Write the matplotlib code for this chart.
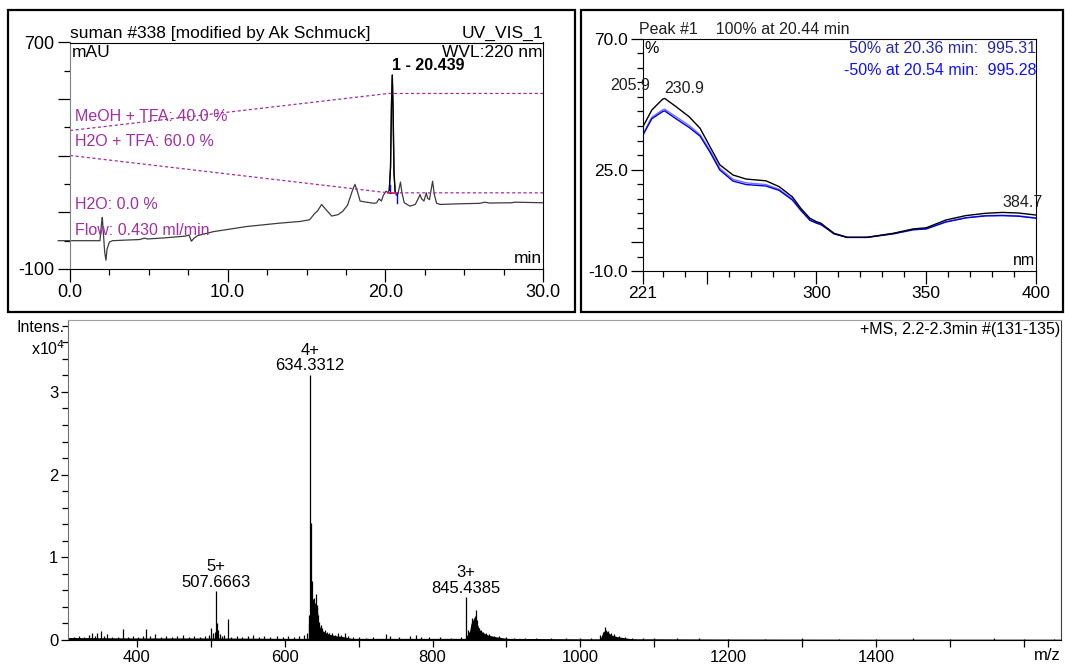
import numpy as np
import matplotlib
matplotlib.use("Agg")
import matplotlib.pyplot as plt
from matplotlib.patches import Rectangle
from matplotlib.ticker import FixedLocator, NullFormatter

plt.rcParams['font.family'] = ['Liberation Sans', 'DejaVu Sans']

# ---- HPLC chromatogram (UV 220 nm) ----
chrom_t = [-0.75, 1.9, 2.0, 2.05, 2.1, 2.2, 2.28, 2.35, 2.5, 2.7, 3.5, 4.4, 4.6, 4.75,
           4.9, 6.0, 7.3, 7.55, 7.7, 7.85, 8.1, 9.1, 11.2, 13.3, 14.6, 15.2, 15.5, 15.7,
           15.96, 16.2, 16.6, 17.0, 17.3, 17.6, 17.9, 18.07, 18.25, 18.4, 18.8, 19.3,
           19.45, 19.6, 19.75, 19.87, 20.05, 20.15, 20.25, 20.33, 20.39, 20.44, 20.49,
           20.55, 20.62, 20.7, 20.8, 20.96, 21.05, 21.2, 21.56, 21.9, 22.1, 22.2, 22.3,
           22.45, 22.6, 22.68, 22.8, 22.95, 23.0, 23.1, 23.25, 23.5, 24.5, 26.0, 26.3,
           26.6, 28.0, 28.2, 30.0]
chrom_mau = [0, 0, 60, 82, 40, -40, -69, -30, -5, 0, 2, 4, 7, 9,
             6, 10, 16, 20, -2, 8, 18, 32, 50, 62, 68, 74, 95, 105,
             128, 112, 87, 92, 104, 125, 175, 199, 170, 140, 136, 132,
             134, 148, 140, 160, 175, 170, 178, 260, 480, 585, 470,
             240, 175, 160, 165, 207, 170, 134, 122, 128, 150, 163, 148,
             140, 169, 150, 145, 195, 210, 165, 132, 128, 130, 132, 136,
             133, 134, 136, 134]
peak_rt = 20.439
peak_height = 585
# integration baseline of peak 1 and its delimiters
base_t = [20.2, 20.72]
base_mau = [168, 168]
delim_start = (20.3, 169, 195)
delim_end = (20.75, 134, 169)

# gradient traces (drawn on the mAU scale)
grad_t = [0, 20.2, 30]
grad_meoh = [389, 520, 520]
grad_h2o = [301, 169, 169]

# ---- UV spectrum of peak 1 ----
uv_nm = [221, 225, 230, 230.9, 236, 242, 247, 251.5, 256, 262, 268, 277, 283, 289, 293,
         297, 300, 302, 304, 308, 314, 323, 335, 344, 350, 359, 368, 377, 384.7, 392, 400]
uv_apex = [39.8, 45.5, 49.3, 49.5, 46.7, 43.2, 39.2, 32.9, 26.6, 23.1, 21.7, 21.1, 19.1,
           15.6, 11.5, 8.2, 7.0, 6.5, 5.3, 3.0, 1.6, 1.6, 3.0, 4.5, 4.9, 7.6, 9.1, 9.9,
           10.2, 10.0, 9.3]
uv_up = [37.2, 43.0, 45.6, 45.8, 43.2, 40.2, 37.0, 31.6, 25.4, 21.6, 20.4, 19.8, 18.2,
         14.9, 11.0, 7.7, 6.6, 6.1, 5.1, 2.9, 1.6, 1.6, 2.9, 4.3, 4.6, 7.0, 8.4, 9.1,
         9.2, 9.0, 8.3]
uv_down = [36.9, 42.5, 45.0, 45.2, 42.5, 39.5, 36.5, 31.0, 24.8, 21.0, 19.8, 19.3, 17.8,
           14.5, 10.8, 7.5, 6.5, 6.0, 5.0, 2.8, 1.6, 1.6, 2.8, 4.2, 4.5, 6.9, 8.3, 9.0,
           9.1, 8.9, 8.2]
uv_maxima = [205.9, 230.9, 384.7]
uv_max_level = [50.5, 49.5, 10.2]

# ---- ESI mass spectrum ----
ms_mz = [315, 322, 328, 335, 339, 343, 346, 352, 356, 360, 366, 374, 382, 388, 395, 402,
         408, 413, 418, 425, 433, 440, 447, 455, 462, 470, 478, 486, 492, 498, 501, 503,
         505.5, 507.6663, 509, 510.5, 512, 515, 518, 523.6, 527, 535, 542, 550, 557, 565,
         572, 580, 590, 598, 605, 612, 620, 626, 630, 632.5, 633.5, 634.3312, 635.2,
         636.3, 637.5, 638.7, 639.8, 641, 642.1, 643.2, 644.4, 645.6, 647, 649, 651,
         654, 657, 660, 664, 668, 672, 676, 681, 686, 692, 700, 710, 720, 737, 742, 755,
         770, 778, 785, 795, 810, 825, 838, 845.4385, 848, 850, 853.8, 856, 858.4, 860.8,
         863, 865.4, 868, 872, 877, 883, 890, 900, 910, 925, 940, 960, 980, 1000, 1015,
         1027, 1030, 1033.2, 1035, 1038, 1042, 1046, 1052, 1060, 1070, 1085, 1100, 1130,
         1160, 1200, 1250, 1300, 1350, 1400, 1450, 1500, 1560, 1600, 1640]
ms_int = [0.04, 0.05, 0.04, 0.06, 0.09, 0.05, 0.08, 0.11, 0.05, 0.07, 0.04, 0.04, 0.13,
          0.04, 0.05, 0.04, 0.05, 0.13, 0.05, 0.07, 0.04, 0.05, 0.04, 0.05, 0.06, 0.04,
          0.05, 0.04, 0.05, 0.06, 0.15, 0.08, 0.10, 0.59, 0.20, 0.12, 0.07, 0.05, 0.06,
          0.26, 0.04, 0.05, 0.04, 0.05, 0.06, 0.04, 0.05, 0.04, 0.05, 0.04, 0.05, 0.04,
          0.05, 0.06, 0.08, 0.20, 0.30, 3.21, 1.41, 0.69, 0.71, 0.50, 0.51, 0.45, 0.56,
          0.40, 0.42, 0.30, 0.22, 0.18, 0.14, 0.12, 0.10, 0.09, 0.08, 0.06, 0.09, 0.06,
          0.08, 0.05, 0.04, 0.04, 0.03, 0.04, 0.07, 0.05, 0.04, 0.05, 0.06, 0.04, 0.04,
          0.04, 0.03, 0.04, 0.52, 0.12, 0.10, 0.27, 0.20, 0.36, 0.24, 0.15, 0.12, 0.10,
          0.08, 0.07, 0.05, 0.05, 0.04, 0.03, 0.03, 0.03, 0.02, 0.03, 0.02, 0.02, 0.06,
          0.10, 0.16, 0.12, 0.11, 0.08, 0.07, 0.05, 0.04, 0.03, 0.02, 0.02, 0.02, 0.02,
          0.015, 0.015, 0.02, 0.015, 0.015, 0.02, 0.015, 0.02, 0.015, 0.015]
# unresolved isotope/adduct envelopes under the clusters
env_mz = [632, 633, 634, 636, 638, 640, 642, 644, 646, 648, 650, 655, 660, 670, 680, 690,
          700, 843, 846, 850, 852, 855, 858, 861, 864, 868, 875, 885, 900, 920,
          1026, 1030, 1033, 1036, 1042, 1050, 1065, 1080]
env_int = [0, 0.10, 0.25, 0.35, 0.38, 0.40, 0.42, 0.38, 0.20, 0.15, 0.12, 0.09, 0.07, 0.05,
           0.04, 0.02, 0, 0, 0.05, 0.10, 0.20, 0.25, 0.30, 0.18, 0.12, 0.09, 0.06, 0.04,
           0.02, 0, 0, 0.08, 0.12, 0.10, 0.06, 0.04, 0.02, 0]
noise_mz = [307, 400, 500, 600, 700, 800, 900, 1000, 1100, 1200, 1400, 1650]
noise_int = [0.03, 0.025, 0.025, 0.02, 0.02, 0.02, 0.02, 0.015, 0.015, 0.012, 0.01, 0.01]
ms_labels = [(507.6663, 0.59, "5+\n507.6663"),
             (634.3312, 3.21, "4+\n634.3312"),
             (845.4385, 0.52, "3+\n845.4385")]

purple = '#a030a0'

fig = plt.figure(figsize=(10.65, 6.66), dpi=100)

# panel frames
for x0, w in [(8, 567), (581, 482)]:
    fig.add_artist(Rectangle((x0 / 1065, 1 - 312 / 666), w / 1065, 302 / 666,
                             transform=fig.transFigure, fill=False, lw=1.6,
                             edgecolor='black'))

# ---------------- chromatogram ----------------
ax1 = fig.add_axes([70 / 1065, 1 - 269 / 666, 473 / 1065, 226.5 / 666])
ax1.plot(chrom_t, chrom_mau, color='#3c3c3c', lw=0.9, clip_on=False)
pk = [i for i, t in enumerate(chrom_t) if 20.25 <= t <= 20.62]
ax1.plot([chrom_t[i] for i in pk], [chrom_mau[i] for i in pk], color='black', lw=1.0)
ax1.plot(base_t, base_mau, color='red', lw=1.2)
ax1.plot([delim_start[0]] * 2, delim_start[1:], color='blue', lw=1.0)
ax1.plot([delim_end[0]] * 2, delim_end[1:], color='blue', lw=1.0)
ax1.plot(grad_t, grad_meoh, color=purple, lw=0.9, ls=(0, (2.5, 2)))
ax1.plot(grad_t, grad_h2o, color=purple, lw=0.9, ls=(0, (2.5, 2)))
ax1.set_xlim(0, 30)
ax1.set_ylim(-100, 700)
ax1.set_xticks([0, 10, 20, 30])
ax1.set_xticklabels(['0.0', '10.0', '20.0', '30.0'])
ax1.xaxis.set_minor_locator(FixedLocator(np.arange(0, 30.1, 2.5)))
ax1.set_yticks([-100, 100, 300, 500, 700])
ax1.set_yticklabels(['-100', '', '', '', '700'])
ax1.yaxis.set_minor_locator(FixedLocator([0, 200, 400, 600]))
ax1.tick_params(which='major', length=9, width=0.9, labelsize=13, pad=2)
ax1.tick_params(which='minor', length=4, width=0.9)
ax1.spines['left'].set_color('#808080')
ax1.text(0.0, 1.008, 'suman #338 [modified by Ak Schmuck]', transform=ax1.transAxes,
         ha='left', va='bottom', fontsize=12.5)
ax1.text(1.0, 1.008, 'UV_VIS_1', transform=ax1.transAxes, ha='right', va='bottom',
         fontsize=12.5)
ax1.text(1.0, 0.99, 'WVL:220 nm', transform=ax1.transAxes, ha='right', va='top',
         fontsize=12.5)
ax1.text(0.003, 0.99, 'mAU', transform=ax1.transAxes, ha='left', va='top', fontsize=12.5)
ax1.text(0.997, 0.015, 'min', transform=ax1.transAxes, ha='right', va='bottom',
         fontsize=12.5)
ax1.text(peak_rt, 618, '1 - 20.439', ha='left', va='center', fontsize=11.5,
         fontweight='bold')
for yf, s in [(0.672, 'MeOH + TFA: 40.0 %'), (0.561, 'H2O + TFA: 60.0 %'),
              (0.283, 'H2O: 0.0 %'), (0.172, 'Flow: 0.430 ml/min')]:
    ax1.text(0.011, yf, s, transform=ax1.transAxes, ha='left', va='center',
             fontsize=11.5, color=purple)

# ---------------- UV spectrum ----------------
ax2 = fig.add_axes([643 / 1065, 1 - 271 / 666, 393 / 1065, 232 / 666])
ax2.plot(uv_nm, uv_up, color='#7070ff', lw=1.0)
ax2.plot(uv_nm, uv_down, color='#0000dd', lw=1.0)
ax2.plot(uv_nm, uv_apex, color='black', lw=1.0)
ax2.set_xlim(221, 400)
ax2.set_ylim(-10, 70)
ax2.set_xticks([221, 250, 300, 350, 400])
ax2.set_xticklabels(['221', '', '300', '350', '400'])
ax2.xaxis.set_minor_locator(FixedLocator(np.arange(230, 400, 10)))
ax2.set_yticks([-10, 0, 25, 70])
ax2.set_yticklabels(['-10.0', '', '25.0', '70.0'])
ax2.yaxis.set_minor_locator(FixedLocator(np.arange(-10, 70, 5)))
ax2.tick_params(which='major', length=9, width=0.9, labelsize=12.5, pad=2)
ax2.tick_params(which='minor', length=4, width=0.9)
ax2.text(-0.01, 1.01, 'Peak #1    100% at 20.44 min', transform=ax2.transAxes,
         ha='left', va='bottom', fontsize=11.5, color='#202020')
ax2.text(0.003, 0.99, '%', transform=ax2.transAxes, ha='left', va='top', fontsize=11.5)
ax2.text(1.0, 0.957, '50% at 20.36 min:  995.31', transform=ax2.transAxes, ha='right',
         va='center', fontsize=11.5, color='#2828a8')
ax2.text(1.0, 0.866, '-50% at 20.54 min:  995.28', transform=ax2.transAxes, ha='right',
         va='center', fontsize=11.5, color='#1010ff')
for nm, lev in zip(uv_maxima, uv_max_level):
    ax2.text(nm, lev + 1.0, f'{nm:.1f}', ha='left', va='bottom', fontsize=11.5,
             color='#202020', clip_on=False)
ax2.text(0.997, 0.015, 'nm', transform=ax2.transAxes, ha='right', va='bottom',
         fontsize=11.5)

# ---------------- mass spectrum ----------------
ax3 = fig.add_axes([68 / 1065, 1 - 640 / 666, 993 / 1065, 320 / 666])
ax3.fill_between(noise_mz, 0, noise_int, color='black', lw=0)
ax3.fill_between(env_mz, 0, env_int, color='black', lw=0)
ax3.vlines(ms_mz, 0, ms_int, color='black', lw=0.9)
ax3.set_xlim(307, 1650)
ax3.set_ylim(0, 3.87)
mz_ticks = list(range(400, 1601, 100))
ax3.set_xticks(mz_ticks)
ax3.set_xticklabels([str(v) if v % 200 == 0 and v < 1600 else '' for v in mz_ticks])
ax3.set_yticks([0, 1, 2, 3])
ax3.yaxis.set_minor_locator(FixedLocator(np.arange(0, 3.81, 0.2)))
ax3.xaxis.set_minor_formatter(NullFormatter())
ax3.tick_params(which='major', length=5, width=0.9, labelsize=12, pad=2)
ax3.tick_params(which='minor', length=4, width=0.9)
ax3.spines['left'].set_color('#707070')
ax3.spines['top'].set_color('#a0a0a0')
ax3.spines['right'].set_color('#404040')
for mz, inten, lab in ms_labels:
    ax3.annotate(lab, (mz, inten), xytext=(0, 1), textcoords='offset points',
                 ha='center', va='bottom', fontsize=12, linespacing=1.05)
ax3.text(0.999, 0.995, '+MS, 2.2-2.3min #(131-135)', transform=ax3.transAxes,
         ha='right', va='top', fontsize=11.5)
fig.text(65 / 1065, 1 - 327 / 666, 'Intens.', ha='right', va='center', fontsize=11.5)
fig.text(65 / 1065, 1 - 349 / 666, 'x10$^4$', ha='right', va='center', fontsize=11.5)
fig.text(1061 / 1065, 1 - 655 / 666, 'm/z', ha='right', va='center', fontsize=12)

fig.savefig('out.png', dpi=100)
